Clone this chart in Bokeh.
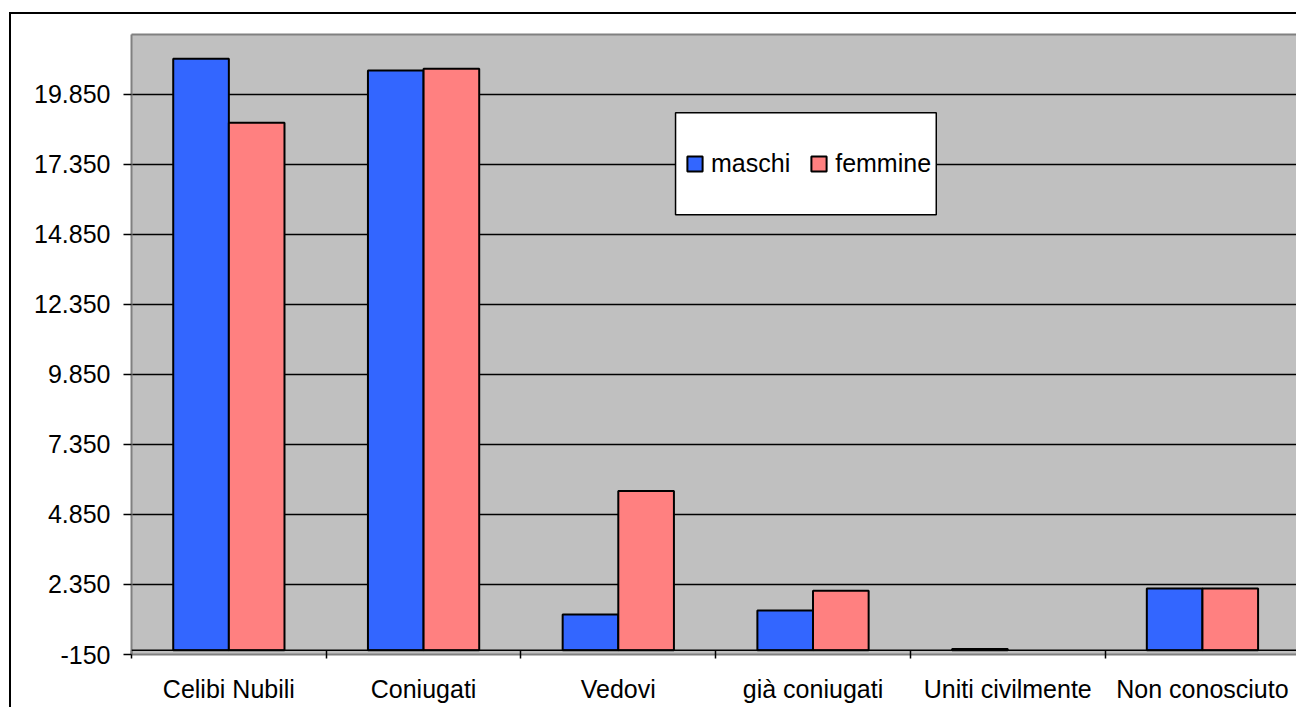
import numpy as np
from bokeh.plotting import figure
from bokeh.models import (Range1d, FixedTicker, Span, BoxAnnotation, Legend, LegendItem,
                          InlineStyleSheet, LinearAxis)
from bokeh.embed import file_html
from bokeh.resources import INLINE

# ---- data ----
categories = ["Celibi Nubili", "Coniugati", "Vedovi", "già coniugati",
              "Uniti civilmente", "Non conosciuto"]
maschi = [21120, 20700, 1280, 1420, 50, 2210]
femmine = [18840, 20770, 5690, 2130, 0, 2210]
y_tick_values = [-150, 2350, 4850, 7350, 9850, 12350, 14850, 17350, 19850]
y_tick_labels = ["-150", "2.350", "4.850", "7.350", "9.850", "12.350",
                 "14.850", "17.350", "19.850"]

FONT = "Liberation Sans"
BLUE = "#3366FF"
PINK = "#FF8080"
FRAME_GRAY = "#808080"

# outer chart border (drawn by CSS on the figure host, left/top edges visible)
border_css = InlineStyleSheet(css="""
:host::after {
  content: "";
  position: absolute;
  left: 9px; top: 12px; right: 0px; bottom: 0px;
  border-left: 2px solid black;
  border-top: 2px solid black;
  pointer-events: none;
}
""")

p = figure(width=1296, height=707, output_backend="svg", toolbar_location=None,
           x_range=Range1d(0, 5.983), y_range=Range1d(-150, 21990),
           min_border_left=131, min_border_right=0, min_border_top=34,
           min_border_bottom=53)
p.stylesheets = [border_css]
p.background_fill_color = "#C0C0C0"
p.border_fill_color = "white"
p.outline_line_color = None

idx = np.arange(len(categories))
bw = 1 / 3.5
xm = idx + 0.5 - bw / 2
xf = idx + 0.5 + bw / 2
m_draw = np.where(np.array(maschi, dtype=float) == 0, np.nan, maschi)
f_draw = np.where(np.array(femmine, dtype=float) == 0, np.nan, femmine)

rm = p.vbar(x=xm, top=m_draw, bottom=0, width=bw, fill_color=BLUE,
            line_color="black", line_width=2)
rf = p.vbar(x=xf, top=f_draw, bottom=0, width=bw, fill_color=PINK,
            line_color="black", line_width=2)

# y axis
p.yaxis.ticker = FixedTicker(ticks=y_tick_values)
p.yaxis.major_label_overrides = dict(zip(y_tick_values, y_tick_labels))
p.yaxis.axis_line_color = FRAME_GRAY
p.yaxis.axis_line_width = 2
p.yaxis.major_tick_out = 8
p.yaxis.major_tick_in = 0
p.yaxis.major_tick_line_width = 1.5
p.yaxis.minor_tick_line_color = None
p.yaxis.major_label_standoff = 13
p.yaxis.major_label_text_font = FONT
p.yaxis.major_label_text_font_size = "25px"
p.yaxis.major_label_text_color = "black"

p.ygrid.ticker = FixedTicker(ticks=y_tick_values[1:])
p.ygrid.grid_line_color = "black"
p.ygrid.grid_line_width = 1.5
p.xgrid.grid_line_color = None

# x axis
p.xaxis.ticker = FixedTicker(ticks=list(idx + 0.5),
                             minor_ticks=list(range(len(categories) + 1)))
p.xaxis.major_label_overrides = {float(i + 0.5): c for i, c in enumerate(categories)}
p.xaxis.major_tick_line_color = None
p.xaxis.major_tick_out = 0
p.xaxis.major_tick_in = 0
p.xaxis.minor_tick_out = 4
p.xaxis.minor_tick_in = 4
p.xaxis.minor_tick_line_color = "black"
p.xaxis.minor_tick_line_width = 1.5
p.xaxis.axis_line_color = FRAME_GRAY
p.xaxis.axis_line_width = 2
p.xaxis.major_label_standoff = 16
p.xaxis.major_label_text_font = FONT
p.xaxis.major_label_text_font_size = "25px"
p.xaxis.major_label_text_color = "black"

# top edge of the plot area (no ticks, no labels)
top_edge = LinearAxis(ticker=FixedTicker(ticks=[]), axis_line_color=FRAME_GRAY,
                      axis_line_width=2, major_tick_line_color=None,
                      minor_tick_line_color=None, major_label_text_font_size="0px")
p.add_layout(top_edge, "above")

p.add_layout(Span(location=0, dimension="width", line_color="black", line_width=1.5))

# legend box
p.add_layout(BoxAnnotation(left=2.794, right=4.133, top=19196, bottom=15555,
                           fill_color="white", fill_alpha=1.0,
                           line_color="black", line_alpha=1.0, line_width=1.5))

legend = Legend(items=[LegendItem(label="maschi", renderers=[rm]),
                       LegendItem(label="femmine", renderers=[rf])],
                orientation="horizontal", location=(554, 476), padding=0, margin=0,
                spacing=19, label_standoff=7, glyph_width=19, glyph_height=19,
                background_fill_alpha=0, border_line_color=None,
                label_text_font=FONT, label_text_font_size="25px",
                label_text_color="black")
p.add_layout(legend, "center")

open("out.html", "w").write(file_html(p, INLINE))
